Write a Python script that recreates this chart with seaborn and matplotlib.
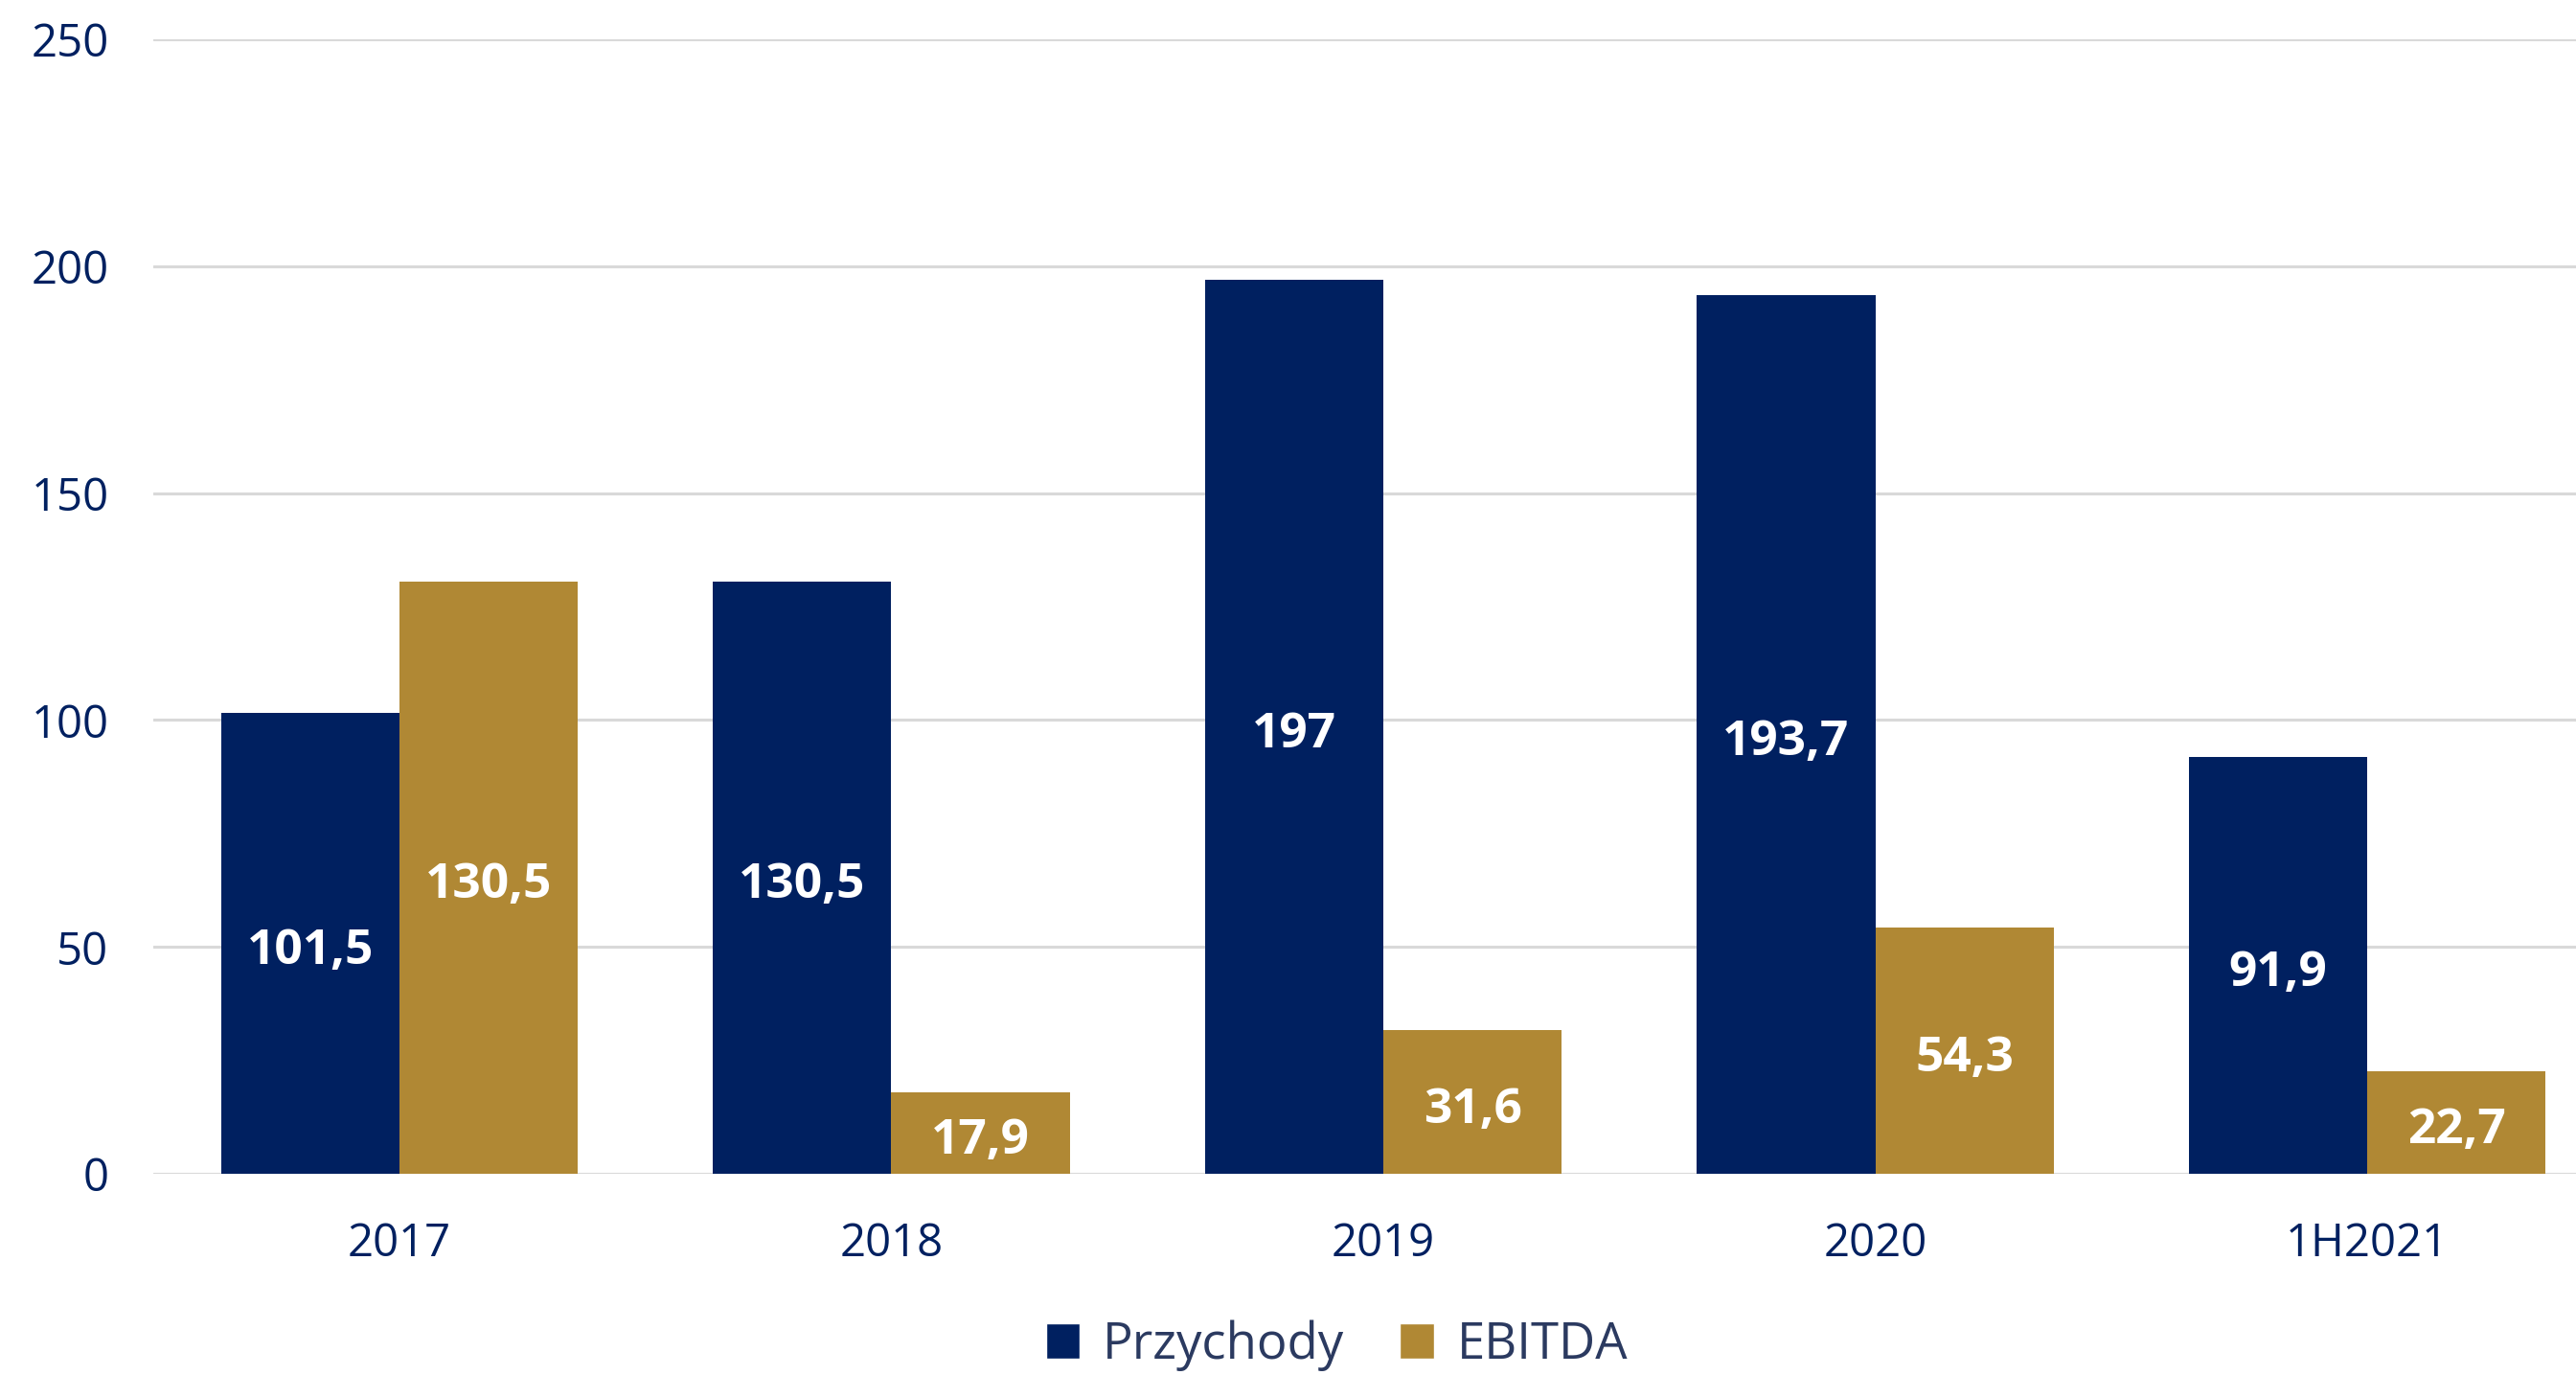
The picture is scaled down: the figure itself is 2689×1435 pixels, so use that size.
import matplotlib
import matplotlib.pyplot as plt
import pandas as pd
import seaborn as sns
from matplotlib.patches import Patch

matplotlib.use("agg")

years = ["2017", "2018", "2019", "2020", "1H2021"]
series = ["Przychody", "EBITDA"]
przychody = [101.5, 130.5, 197, 193.7, 91.9]
ebitda = [130.5, 17.9, 31.6, 54.3, 22.7]
y_ticks = [0, 50, 100, 150, 200, 250]

navy = "#002060"
gold = "#B08834"
legend_text = "#2B3A60"
grid_gray = "#D9D9D9"

df = pd.DataFrame({
    "rok": years * 2,
    "seria": [series[0]] * len(years) + [series[1]] * len(years),
    "wartosc": przychody + ebitda,
})

sns.set_style("white")
plt.rcParams["font.family"] = ["Open Sans", "DejaVu Sans"]

fig = plt.figure(figsize = (26.89, 14.35), dpi = 100)
ax = fig.add_axes([0.0595, 0.1463, 0.9405, 0.8251])

sns.barplot(data = df, x = "rok", y = "wartosc", hue = "seria", order = years, hue_order = series,
            palette = [navy, gold], width = 0.725, gap = 0, saturation = 1, legend = False, ax = ax,
            edgecolor = "none", linewidth = 0, zorder = 3)

for container in ax.containers:
    vals = [b.get_height() for b in container]
    labels = [f"{v:g}".replace(".", ",") for v in vals]
    anns = ax.bar_label(container, labels = labels, label_type = "center", color = "white",
                        fontsize = 37, fontweight = "bold")
    for a in anns:
        a.xyann = (0, -6)

ax.set_ylim(0, 250)
ax.set_yticks(y_ticks)
ax.set_xlim(-0.5, 4.424)
ax.set_xlabel("")
ax.set_ylabel("")
ax.grid(axis = "y", color = grid_gray, linewidth = 2.2, zorder = 0)
ax.grid(axis = "x", visible = False)
for s in ax.spines.values():
    s.set_visible(False)
ax.tick_params(axis = "both", length = 0, labelsize = 34, labelcolor = navy)
ax.tick_params(axis = "x", pad = 35.5)
ax.tick_params(axis = "y", pad = 33.5)

handles = [Patch(facecolor = navy, label = series[0]), Patch(facecolor = gold, label = series[1])]
leg = fig.legend(handles = handles, loc = "center", bbox_to_anchor = (0.519, 0.0215), ncol = 2,
                 frameon = False, fontsize = 38, handlelength = 0.68, handleheight = 0.68,
                 handletextpad = 0.45, columnspacing = 1.1, borderpad = 0)
for t in leg.get_texts():
    t.set_color(legend_text)

plt.savefig("out.png", dpi = 100)
